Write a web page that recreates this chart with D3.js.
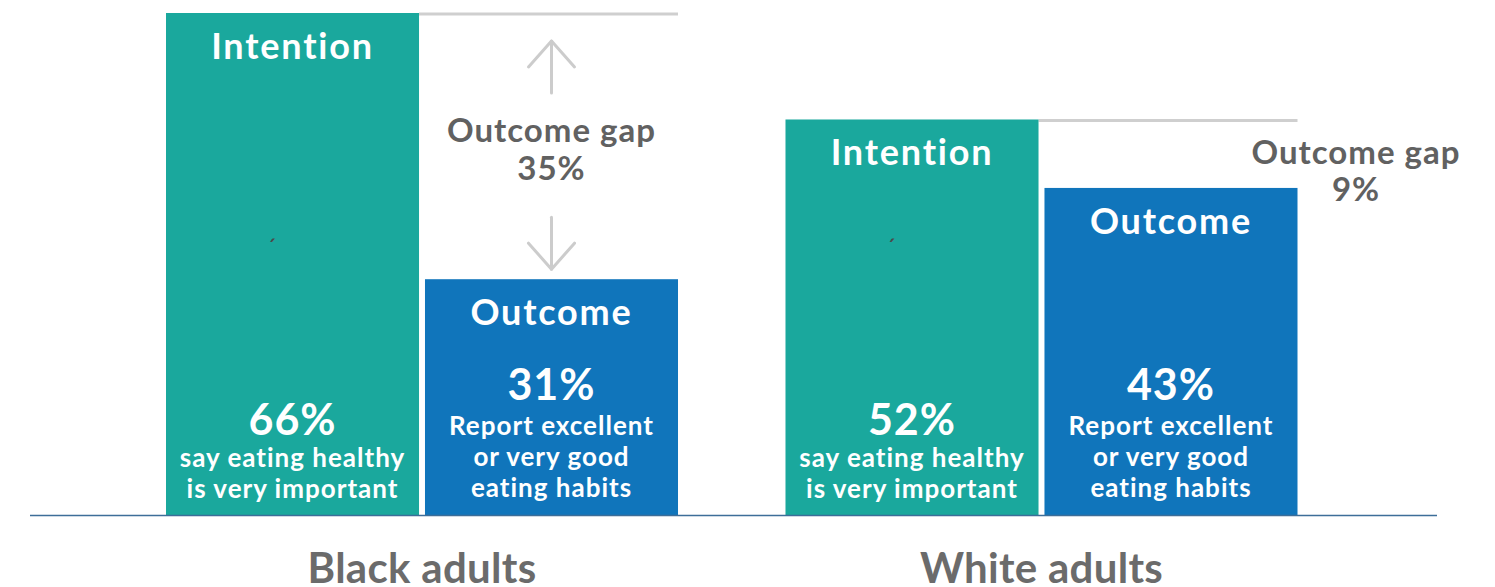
<!DOCTYPE html>
<html><head><meta charset="utf-8">
<script src="https://cdn.jsdelivr.net/npm/d3@7"></script>
<style>
html,body{margin:0;padding:0;background:#fff;overflow:hidden}
svg{display:block;font-family:Lato,"Open Sans",sans-serif;font-weight:700}
</style></head>
<body><svg id="c" width="1495" height="587"></svg>
<script>
const groups = ["Black adults", "White adults"];
const measures = ["Intention", "Outcome"];
const intention = [66, 52];
const outcome = [31, 43];
const gaps = [35, 9];
const intentionText = ["say eating healthy", "is very important"];
const outcomeText = ["Report excellent", "or very good", "eating habits"];
const gapLabel = "Outcome gap";

const colors = {Intention: "#1aa89d", Outcome: "#1075bb"};
const gray = "#616161";

const svg = d3.select("#c");
const baseY = 515;
const y = d3.scaleLinear().domain([0, 66]).range([baseY, 13]);
const x0 = d3.scaleBand().domain(groups).range([166, 1297.5]).paddingInner(0.1735).paddingOuter(0);
const x1 = d3.scaleBand().domain(measures).range([0, x0.bandwidth()]).paddingInner(0.023);

const data = groups.map((g, i) => ({group: g, vals: [
  {m: "Intention", v: intention[i]},
  {m: "Outcome", v: outcome[i]}
], gap: gaps[i]}));

// gap reference lines (gray) at intention level across outcome bar
svg.selectAll("line.ref").data(data).join("line")
  .attr("x1", d => x0(d.group) + x1("Intention") + x1.bandwidth())
  .attr("x2", d => x0(d.group) + x1("Outcome") + x1.bandwidth())
  .attr("y1", d => y(d.vals[0].v) + 1)
  .attr("y2", d => y(d.vals[0].v) + 1)
  .attr("stroke", "#cfcfcf").attr("stroke-width", 3);

const g = svg.selectAll("g.grp").data(data).join("g")
  .attr("transform", d => `translate(${x0(d.group)},0)`);

g.selectAll("rect").data(d => d.vals).join("rect")
  .attr("x", d => x1(d.m))
  .attr("y", d => y(d.v))
  .attr("width", x1.bandwidth())
  .attr("height", d => baseY - y(d.v))
  .attr("fill", d => colors[d.m]);

// measure title in bar
g.selectAll("text.title").data(d => d.vals).join("text")
  .attr("class", "title")
  .attr("x", d => x1(d.m) + x1.bandwidth() / 2)
  .attr("y", d => y(d.v) + 46)
  .attr("text-anchor", "middle").attr("fill", "#fff")
  .attr("font-size", 36).attr("letter-spacing", 1.8).text(d => d.m);

// small mark in intention bar
g.append("text")
  .attr("x", x1("Intention") + x1.bandwidth() / 2 - 21)
  .attr("y", 256).attr("text-anchor", "middle")
  .attr("fill", "#4a4a4a").attr("font-size", 24).attr("font-weight", 400).text("\u00B4");

// percentages + descriptions
g.each(function(d) {
  const sel = d3.select(this);
  const cxI = x1("Intention") + x1.bandwidth() / 2;
  const cxO = x1("Outcome") + x1.bandwidth() / 2;
  sel.append("text").attr("x", cxI).attr("y", 435).attr("text-anchor", "middle")
    .attr("fill", "#fff").attr("font-size", 43).attr("letter-spacing", 1).text(d.vals[0].v + "%");
  intentionText.forEach((t, k) => sel.append("text").attr("x", cxI).attr("y", 467 + k * 31)
    .attr("text-anchor", "middle").attr("fill", "#fff").attr("font-size", 26)
    .attr("letter-spacing", 1).text(t));
  sel.append("text").attr("x", cxO).attr("y", 400).attr("text-anchor", "middle")
    .attr("fill", "#fff").attr("font-size", 43).attr("letter-spacing", 1).text(d.vals[1].v + "%");
  outcomeText.forEach((t, k) => sel.append("text").attr("x", cxO).attr("y", 435 + k * 31)
    .attr("text-anchor", "middle").attr("fill", "#fff").attr("font-size", 26)
    .attr("letter-spacing", 1).text(t));
});

// Gap annotation — Black adults (between bars, with arrows)
(function() {
  const d = data[0];
  const cx = x0(d.group) + x1("Outcome") + x1.bandwidth() / 2;
  const top = y(d.vals[0].v), bot = y(d.vals[1].v);
  svg.append("text").attr("x", cx).attr("y", 142).attr("text-anchor", "middle")
    .attr("fill", gray).attr("font-size", 33).attr("letter-spacing", 1).text(gapLabel);
  svg.append("text").attr("x", cx).attr("y", 180).attr("text-anchor", "middle")
    .attr("fill", gray).attr("font-size", 33).attr("letter-spacing", 1).text(d.gap + "%");
  const ag = svg.append("g").attr("stroke", "#cccccc").attr("stroke-width", 3)
    .attr("fill", "none").attr("stroke-linecap", "round").attr("stroke-linejoin", "round");
  ag.append("line").attr("x1", cx).attr("x2", cx).attr("y1", top + 28).attr("y2", top + 80);
  ag.append("path").attr("d", `M${cx - 23},${top + 54}L${cx},${top + 28}L${cx + 23},${top + 54}`);
  ag.append("line").attr("x1", cx).attr("x2", cx).attr("y1", bot - 62).attr("y2", bot - 10);
  ag.append("path").attr("d", `M${cx - 23},${bot - 36}L${cx},${bot - 10}L${cx + 23},${bot - 36}`);
})();

// Gap annotation — White adults (to the right)
(function() {
  const d = data[1];
  const cx = 1356;
  svg.append("text").attr("x", cx).attr("y", 164).attr("text-anchor", "middle")
    .attr("fill", gray).attr("font-size", 33).attr("letter-spacing", 1).text(gapLabel);
  svg.append("text").attr("x", cx).attr("y", 201).attr("text-anchor", "middle")
    .attr("fill", gray).attr("font-size", 33).attr("letter-spacing", 1).text(d.gap + "%");
})();

// baseline axis
svg.append("line").attr("x1", 30).attr("x2", 1437).attr("y1", baseY + 0.5).attr("y2", baseY + 0.5)
  .attr("stroke", "#3d6e99").attr("stroke-width", 1.5);

// group labels
svg.selectAll("text.grp").data(groups).join("text")
  .attr("class", "grp")
  .attr("x", d => x0(d) + x0.bandwidth() / 2)
  .attr("y", 583).attr("text-anchor", "middle")
  .attr("fill", "#6b6b6b").attr("font-size", 42).attr("letter-spacing", 0.3).text(d => d);
</script></body></html>
